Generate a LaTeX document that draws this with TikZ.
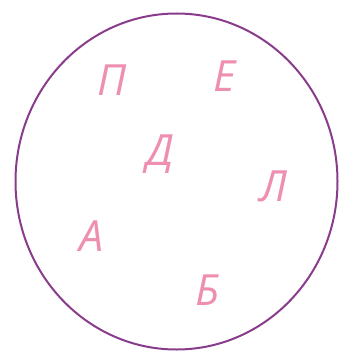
\documentclass[tikz,border=0pt]{standalone}
\usepackage{fontspec}
\usetikzlibrary{shapes.geometric}
\setmainfont{Open Sans}
\definecolor{ringc}{HTML}{8A3C8C}
\definecolor{letc}{HTML}{EE8FB2}
\begin{document}
\begin{tikzpicture}[x=1pt,y=-1pt,
  letter/.style={text=letc,font=\fontsize{43}{43}\itshape\selectfont,inner sep=0pt}]
\useasboundingbox (0,0) rectangle (340,353);
\node[draw=ringc,line width=2pt,ellipse,minimum width=322pt,minimum height=336pt,inner sep=0pt] (ring) at (176.5,181.5) {};
\node[letter] (p) at (112,80) {П};
\node[letter] (e) at (225,76) {Е};
\node[letter] (d) at (160,154) {Д};
\node[letter] (l) at (273,186) {Л};
\node[letter] (a) at (92,236) {А};
\node[letter] (b) at (208,290) {Б};
\end{tikzpicture}
\end{document}
